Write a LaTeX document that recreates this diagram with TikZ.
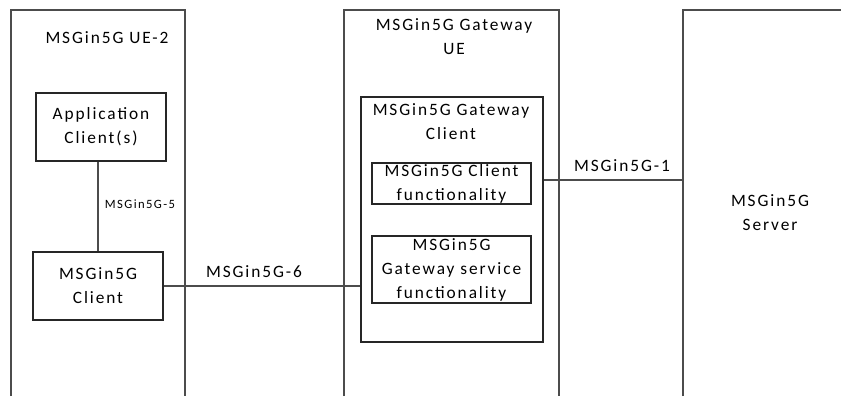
\documentclass[tikz,border=0pt]{standalone}
\usepackage{fontspec}
\setmainfont[LetterSpace=11]{Carlito}

\begin{document}
\begin{tikzpicture}[x=0.75pt,y=-0.75pt,
        box/.style={draw=black!85,line width=0.9pt,inner sep=0pt},
        wire/.style={draw=black!70,line width=0.8pt},
        lbl/.style={align=center,inner sep=0pt,font=\fontsize{13}{18}\selectfont},
        small/.style={inner sep=0pt,font=\fontsize{9.5}{11}\selectfont}]
        \useasboundingbox (0,0) rectangle (841,396);
        % containers, open at the bottom
        \draw[wire] (11,396) -- (11,10) -- (185,10) -- (185,396);
        \draw[wire] (344,396) -- (344,10) -- (559,10) -- (559,396);
        \draw[wire] (683,396) -- (683,10) -- (841,10);
        \coordinate (srvedge) at (683,180);
        \node[lbl] (uetitle) at (107,38) {MSGin5G UE-2};
        \node[lbl] (gwtitle) at (454,37) {MSGin5G Gateway\\UE};
        \node[lbl] (srv) at (770,213) {MSGin5G\\Server};
        % boxes
        \node[box,lbl,minimum width=97.5pt,minimum height=51pt] (app) at (101,127) {Application\\Client(s)};
        \node[box,lbl,minimum width=97.5pt,minimum height=51pt] (cli) at (98,286) {MSGin5G\\Client};
        \node[box,minimum width=136.5pt,minimum height=183.75pt] (gwc) at (452,219.5) {};
        \node[lbl] (gwctitle) at (451,122) {MSGin5G Gateway\\Client};
        \node[box,lbl,minimum width=119.25pt,minimum height=30.75pt] (cfun) at (451.5,183.5) {MSGin5G Client\\functionality};
        \node[box,lbl,minimum width=119.25pt,minimum height=50.25pt] (gsf) at (451.5,269.5) {MSGin5G\\Gateway service\\functionality};
        % reference points
        \draw[wire] (cli.north |- app.south) -- (cli.north);
        \draw[wire] (cli.east) -- (cli.east -| gwc.west);
        \draw[wire] (gwc.east |- srvedge) -- (srvedge);
        \node[small] (p5) at (140,204) {MSGin5G-5};
        \node[lbl] (p6) at (254,272) {MSGin5G-6};
        \node[lbl] (p1) at (622,166) {MSGin5G-1};
\end{tikzpicture}
\end{document}
